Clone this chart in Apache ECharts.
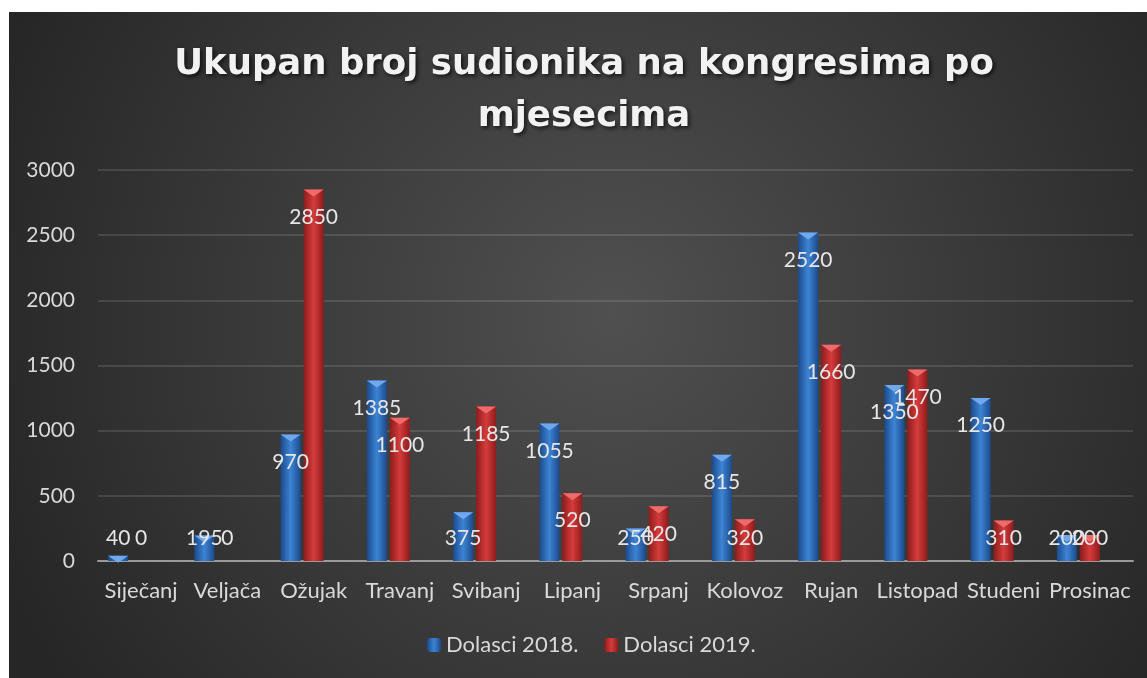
<!DOCTYPE html>
<html>
<head>
<meta charset="utf-8">
<script src="https://cdn.jsdelivr.net/npm/echarts@6/dist/echarts.min.js"></script>
<style>
  html, body { margin: 0; padding: 0; background: #fff; }
  #chart { position: absolute; left: 9px; top: 12px; width: 1138px; height: 666px; }
</style>
</head>
<body>
<div id="chart"></div>
<script>
const months = ['Siječanj', 'Veljača', 'Ožujak', 'Travanj', 'Svibanj', 'Lipanj',
  'Srpanj', 'Kolovoz', 'Rujan', 'Listopad', 'Studeni', 'Prosinac']
const dolasci2018 = [40, 195, 970, 1385, 375, 1055, 250, 815, 2520, 1350, 1250, 200]
const dolasci2019 = [0, 0, 2850, 1100, 1185, 520, 420, 320, 1660, 1470, 310, 200]
const yTicks = { min: 0, max: 3000, interval: 500 }

const labelFont = 'Lato, "Noto Sans", sans-serif'

const barGradient = (edge, mid) => new echarts.graphic.LinearGradient(0, 0, 1, 0, [
  { offset: 0, color: edge },
  { offset: 0.5, color: mid },
  { offset: 1, color: edge }
])

const bar = (name, arr, color) => ({
  name,
  type: 'bar',
  barWidth: 20,
  barGap: '15%',
  z: 2,
  itemStyle: { color },
  data: arr
})

// svijetli trokut na vrhu stupca (efekt "kosine") + oznaka vrijednosti
// kratki stupci: oznaka ostaje iznad osi umjesto da padne ispod nje
const notch = (name, arr, color) => ({
  name,
  type: 'pictorialBar',
  symbol: 'path://M0,0 L20,0 L10,7 Z',
  symbolSize: [20, 7],
  symbolPosition: 'end',
  symbolClip: false,
  barWidth: 20,
  barGap: '15%',
  silent: true,
  z: 3,
  itemStyle: { color },
  label: { show: color !== 'transparent', position: 'insideTop', distance: 17, color: '#e6e6e6', fontSize: 21, fontFamily: labelFont },
  data: arr.map(v => {
    const item = { value: v }
    if (v === 0) item.symbolSize = [0, 0]
    if (v < 391) item.label = { position: 'insideBottom', distance: 12 }
    return item
  })
})

const chart = echarts.init(document.getElementById('chart'))

const option = {
  backgroundColor: new echarts.graphic.RadialGradient(0.53, 0.45, 1.0, [
    { offset: 0, color: '#505050' },
    { offset: 1, color: '#262626' }
  ]),
  title: {
    text: 'Ukupan broj sudionika na kongresima po\nmjesecima',
    left: 570,
    textAlign: 'center',
    top: 22,
    textStyle: {
      color: '#f2f2f2',
      fontFamily: '"DejaVu Sans", sans-serif',
      fontWeight: 'bold',
      fontSize: 35.5,
      lineHeight: 52,
      textShadowColor: 'rgba(0,0,0,0.7)',
      textShadowBlur: 4,
      textShadowOffsetX: 2,
      textShadowOffsetY: 2
    }
  },
  legend: {
    data: ['Dolasci 2018.', 'Dolasci 2019.'],
    bottom: 17,
    left: 413,
    itemWidth: 14,
    itemHeight: 14,
    itemGap: 26,
    textStyle: { color: '#d9d9d9', fontSize: 22, fontFamily: labelFont }
  },
  grid: { left: 89, right: 14, top: 158, bottom: 117 },
  xAxis: {
    type: 'category',
    data: months,
    axisTick: { show: false },
    axisLine: { lineStyle: { color: '#9a9a9a', width: 2 } },
    axisLabel: { color: '#d9d9d9', fontSize: 22, fontFamily: labelFont, margin: 19, interval: 0 }
  },
  yAxis: {
    type: 'value',
    min: yTicks.min,
    max: yTicks.max,
    interval: yTicks.interval,
    axisLine: { show: false },
    axisTick: { show: false },
    splitLine: { lineStyle: { color: 'rgba(255,255,255,0.16)', width: 1.5 } },
    axisLabel: { color: '#d9d9d9', fontSize: 21, fontFamily: labelFont, margin: 23, formatter: v => String(v) }
  },
  series: [
    bar('Dolasci 2018.', dolasci2018, barGradient('#1b4a8c', '#3d84d4')),
    bar('Dolasci 2019.', dolasci2019, barGradient('#8c1c1c', '#d63b3b')),
    // prazan treći stupac kao u izvornom grafikonu (pomiče skupine ulijevo)
    bar('prazno', months.map(() => null), 'transparent'),
    notch('vrh 2018', dolasci2018, '#6fa8ec'),
    notch('vrh 2019', dolasci2019, '#ef6b6b'),
    notch('vrh prazno', months.map(() => 0), 'transparent')
  ]
}

chart.setOption(option)
window.addEventListener('resize', () => chart.resize())
</script>
</body>
</html>
